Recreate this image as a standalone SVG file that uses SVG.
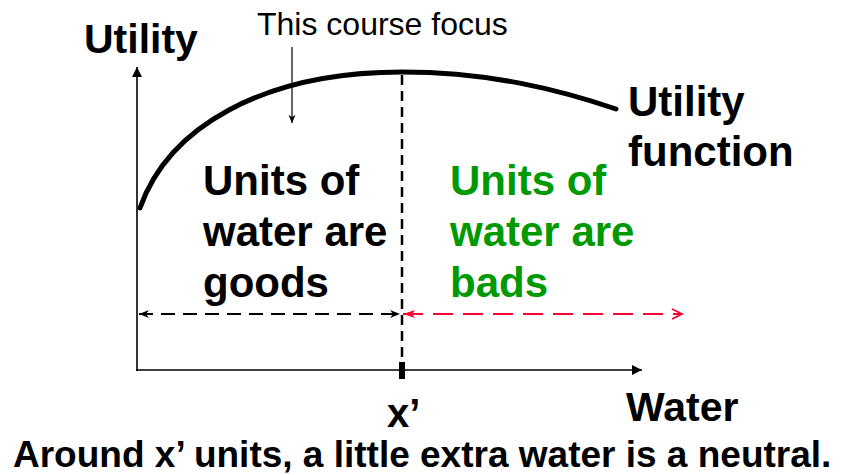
<svg xmlns="http://www.w3.org/2000/svg" width="842" height="475" viewBox="0 0 842 475">
<style>
.t{font-family:"Liberation Sans",Arial,sans-serif;font-weight:bold;fill:#000}
.r{font-family:"Liberation Sans",Arial,sans-serif;fill:#000}
.g{fill:#009900}
.ax{stroke:#000;stroke-width:1.6;fill:none}
</style>
<defs>
<marker id="axArr" markerUnits="userSpaceOnUse" markerWidth="12" markerHeight="10" refX="10" refY="5" orient="auto">
<path d="M0,0 L10,5 L0,10 Z" fill="#000"/>
</marker>
<marker id="thin" markerUnits="userSpaceOnUse" markerWidth="10" markerHeight="8" refX="8" refY="4" orient="auto">
<path d="M0,0.5 L8,4 L0,7.5 L2,4 Z" fill="#000"/>
</marker>
<marker id="blkHead" markerUnits="userSpaceOnUse" markerWidth="12" markerHeight="10" refX="10" refY="5" orient="auto-start-reverse">
<path d="M0,1 L10,5 L0,9 L3,5 Z" fill="#000"/>
</marker>
<marker id="redStart" markerUnits="userSpaceOnUse" markerWidth="14" markerHeight="10" refX="12" refY="5" orient="auto-start-reverse">
<path d="M0,1 L12,5 L0,9 L3,5 Z" fill="#FF0033"/>
</marker>
<marker id="redEnd" markerUnits="userSpaceOnUse" markerWidth="14" markerHeight="12" refX="11" refY="6" orient="auto">
<path d="M1,1 L11,6 L1,11" fill="none" stroke="#FF0033" stroke-width="1.8"/>
</marker>
</defs>

<g id="connectors">
<line id="y-axis" class="ax" x1="137" y1="371" x2="137" y2="67" marker-end="url(#axArr)"/>
<line id="x-axis" class="ax" x1="136" y1="370" x2="642" y2="370" marker-end="url(#axArr)"/>
<line id="x-prime-line" x1="402" y1="75" x2="402" y2="370" stroke="#000" stroke-width="2.5" stroke-dasharray="10,6"/>
<line id="goods-range" x1="139" y1="314" x2="400" y2="314" stroke="#000" stroke-width="2.2" stroke-dasharray="14,8" marker-start="url(#blkHead)" marker-end="url(#blkHead)"/>
<line id="bads-range" x1="403" y1="314" x2="682" y2="314" stroke="#FF0033" stroke-width="2.2" stroke-dasharray="20,10" marker-start="url(#redStart)" marker-end="url(#redEnd)"/>
<line id="focus-arrow" x1="292" y1="47" x2="292" y2="123" stroke="#000" stroke-width="1.2" marker-end="url(#thin)"/>
</g>

<g id="utility-curve">
<path d="M140,208 C168,128 262,72 402,72 C490,72 560,90 616,109" fill="none" stroke="#000" stroke-width="5" stroke-linecap="round"/>
</g>

<g id="tick">
<rect x="399" y="362" width="6" height="17" fill="#000"/>
</g>

<g id="label-utility-axis">
<text class="t" x="84" y="53" font-size="41">Utility</text>
</g>
<g id="label-focus">
<text class="r" x="257" y="35" font-size="32">This course focus</text>
</g>
<g id="label-utility-function">
<text class="t" x="628" y="116" font-size="42">Utility</text>
<text class="t" x="628" y="166" font-size="42">function</text>
</g>
<g id="label-goods">
<text class="t" x="203" y="195" font-size="42">Units of</text>
<text class="t" x="203" y="246" font-size="42">water are</text>
<text class="t" x="203" y="297" font-size="42">goods</text>
</g>
<g id="label-bads">
<text class="t g" x="450" y="195" font-size="42">Units of</text>
<text class="t g" x="450" y="246" font-size="42">water are</text>
<text class="t g" x="450" y="297" font-size="42">bads</text>
</g>
<g id="label-xprime">
<text class="t" x="387" y="427" font-size="40">x’</text>
</g>
<g id="label-water">
<text class="t" x="626" y="421" font-size="41">Water</text>
</g>
<g id="caption">
<text class="t" x="13" y="467" font-size="37">Around x’ units, a little extra water is a neutral.</text>
</g>
</svg>
